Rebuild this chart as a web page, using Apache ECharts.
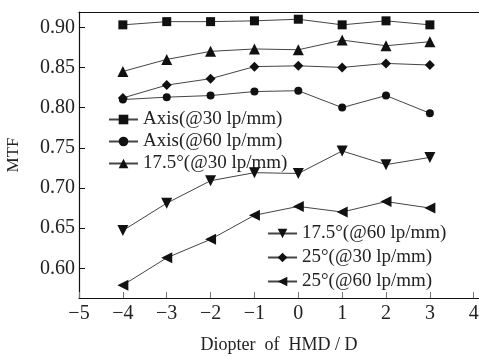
<!DOCTYPE html>
<html>
<head>
<meta charset="utf-8">
<script src="https://cdn.jsdelivr.net/npm/echarts@6/dist/echarts.min.js"></script>
<style>
  html, body { margin: 0; padding: 0; background: #fff; }
  #chart { width: 479px; height: 356px; }
</style>
</head>
<body>
<div id="chart"></div>
<script>
// 横轴：屈光度
const diopters = [-4, -3, -2, -1, 0, 1, 2, 3];
// 各条曲线的 MTF 值
const axis30 = [0.903, 0.907, 0.907, 0.908, 0.910, 0.903, 0.908, 0.903];
const axis60 = [0.810, 0.813, 0.815, 0.820, 0.821, 0.800, 0.815, 0.793];
const deg175at30 = [0.845, 0.860, 0.870, 0.873, 0.872, 0.884, 0.877, 0.882];
const deg175at60 = [0.647, 0.681, 0.709, 0.719, 0.718, 0.746, 0.729, 0.738];
const deg25at30 = [0.812, 0.828, 0.836, 0.851, 0.852, 0.850, 0.855, 0.853];
const deg25at60 = [0.579, 0.613, 0.636, 0.666, 0.677, 0.670, 0.683, 0.675];
const seriesNames = [
  "Axis(@30 lp/mm)",
  "Axis(@60 lp/mm)",
  "17.5°(@30 lp/mm)",
  "17.5°(@60 lp/mm)",
  "25°(@30 lp/mm)",
  "25°(@60 lp/mm)",
];

(() => {
  configMtfChart();
})();

function pairs(values) {
  return diopters.map((d, i) => [d, values[i]]);
}

// 配置 MTF 折线图
function configMtfChart() {
  const chart = echarts.init(document.getElementById("chart"));
  const font = "'Liberation Serif', 'DejaVu Serif', serif";
  const lineOption = (name, values, symbol, size) => ({
    name: name,
    type: "line",
    data: pairs(values),
    symbol: symbol,
    symbolSize: size,
    lineStyle: { color: "#444", width: 1 },
    itemStyle: { color: "#111" },
    emphasis: { disabled: true },
    animation: false,
  });
  const legendText = { fontFamily: font, fontSize: 19, color: "#222" };
  const option = {
    grid: { left: 79, right: 0, top: 12, bottom: 58, outerBoundsMode: "none", containLabel: false },
    legend: [
      {
        data: seriesNames.slice(0, 3),
        orient: "vertical",
        left: 108,
        top: 110,
        padding: 0,
        itemWidth: 29,
        itemHeight: 12,
        itemGap: 3,
        textStyle: legendText,
      },
      {
        data: seriesNames.slice(3),
        orient: "vertical",
        left: 267,
        top: 224,
        padding: 0,
        itemWidth: 29,
        itemHeight: 12,
        itemGap: 5,
        textStyle: legendText,
      },
    ],
    xAxis: [
      {
        type: "value",
        min: -5,
        max: 4.12,
        interval: 1,
        name: "Diopter  of  HMD / D",
        nameLocation: "middle",
        nameGap: 38,
        nameTextStyle: { fontFamily: font, fontSize: 18, color: "#222" },
        axisLine: { onZero: false, lineStyle: { color: "#111", width: 1.2 } },
        axisTick: { inside: true, length: 6, lineStyle: { color: "#777" } },
        axisLabel: {
          fontFamily: font,
          fontSize: 20,
          color: "#222",
          margin: 6,
          showMaxLabel: false,
          formatter: (v) => String(v).replace("-", "\u2212"),
        },
        splitLine: { show: false },
      },
      {
        type: "value",
        position: "top",
        min: -5,
        max: 4.12,
        axisLine: { onZero: false, lineStyle: { color: "#111", width: 1.2 } },
        axisTick: { show: false },
        axisLabel: { show: false },
        splitLine: { show: false },
      },
    ],
    yAxis: {
      type: "value",
      min: 0.563,
      max: 0.919,
      splitNumber: 7,
      name: "MTF",
      nameLocation: "middle",
      nameRotate: 90,
      nameGap: 57,
      nameTextStyle: { fontFamily: font, fontSize: 17, color: "#222" },
      axisLine: { onZero: false, lineStyle: { color: "#111", width: 1.2 } },
      axisTick: { inside: true, length: 6, lineStyle: { color: "#111" } },
      axisLabel: {
        fontFamily: font,
        fontSize: 20,
        color: "#222",
        margin: 4,
        showMinLabel: false,
        showMaxLabel: false,
        formatter: (v) => v.toFixed(2),
      },
      splitLine: { show: false },
    },
    series: [
      lineOption(seriesNames[0], axis30, "rect", 9),
      lineOption(seriesNames[1], axis60, "circle", 8),
      lineOption(seriesNames[2], deg175at30, "triangle", 11),
      lineOption(seriesNames[3], deg175at60, "path://M0,0 L10,0 L5,9 Z", 11),
      lineOption(seriesNames[4], deg25at30, "diamond", 10),
      lineOption(seriesNames[5], deg25at60, "path://M9,0 L9,10 L0,5 Z", 11),
    ],
  };
  chart.setOption(option);
}
</script>
</body>
</html>
